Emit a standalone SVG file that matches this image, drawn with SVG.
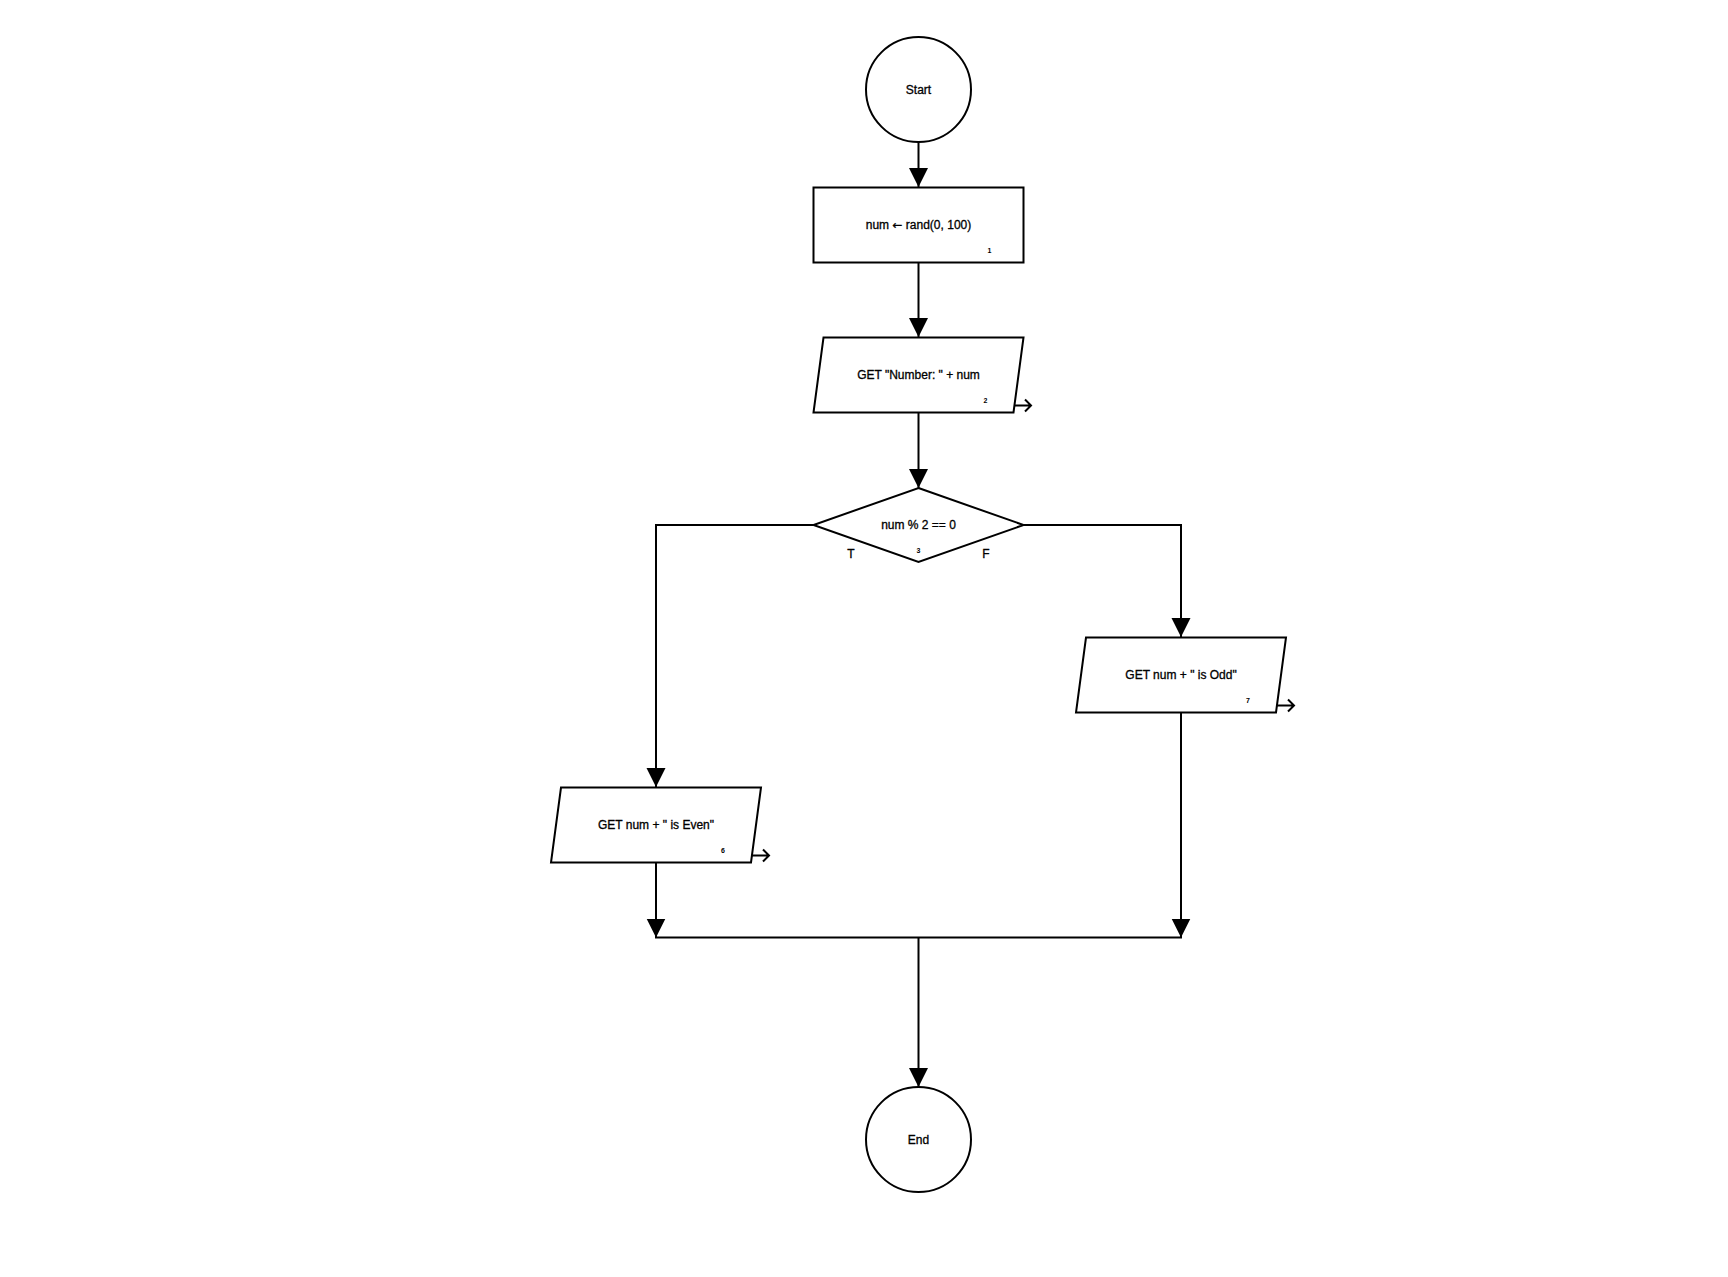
<svg xmlns="http://www.w3.org/2000/svg" width="1728" height="1277" viewBox="0 0 1728 1277">
<defs>
<marker id="ah" markerWidth="19" markerHeight="20" refX="19" refY="9.5" orient="auto" markerUnits="userSpaceOnUse">
<path d="M0,0 L19,9.5 L0,19 Z" fill="#000"/>
</marker>
</defs>
<style>
.shape{fill:#fff;stroke:#000;stroke-width:2}
.conn{fill:none;stroke:#000;stroke-width:2}
.lbl{font-family:"Liberation Sans",Arial,sans-serif;font-size:12px;fill:#000;stroke:#000;stroke-width:0.3;text-anchor:middle;dominant-baseline:central}
.num{font-family:"Liberation Sans",Arial,sans-serif;font-size:7px;font-weight:bold;fill:#000;text-anchor:middle;dominant-baseline:central}
.tf{font-family:"Liberation Sans",Arial,sans-serif;font-size:12px;fill:#000;stroke:#000;stroke-width:0.3;text-anchor:middle;dominant-baseline:central}
.out{fill:none;stroke:#000;stroke-width:2}
.arw{font-family:"DejaVu Sans",sans-serif}
</style>
<rect width="1728" height="1277" fill="#fff"/>
<g id="connectors">
<path class="conn" d="M918.5,142 L918.5,187" marker-end="url(#ah)"/>
<path class="conn" d="M918.5,262 L918.5,337" marker-end="url(#ah)"/>
<path class="conn" d="M918.5,412 L918.5,488" marker-end="url(#ah)"/>
<path class="conn" d="M813,525 L656,525 L656,787" marker-end="url(#ah)"/>
<path class="conn" d="M1024,525 L1181,525 L1181,637" marker-end="url(#ah)"/>
<path class="conn" d="M656,862 L656,937.5" marker-end="url(#ah)"/>
<path class="conn" d="M1181,712 L1181,937.5" marker-end="url(#ah)"/>
<path class="conn" d="M655,937.5 L1182,937.5"/>
<path class="conn" d="M918.5,937.5 L918.5,1087" marker-end="url(#ah)"/>
</g>
<g id="start">
<circle class="shape" cx="918.5" cy="89.5" r="52.5"/>
<text class="lbl" x="918.5" y="89.5">Start</text>
</g>
<g id="node1">
<rect class="shape" x="813.5" y="187.5" width="210" height="75"/>
<text class="lbl" x="918.5" y="225">num <tspan class="arw">←</tspan> rand(0, 100)</text>
<text class="num" x="989.5" y="250.5">1</text>
</g>
<g id="node2">
<polygon class="shape" points="823.5,337.5 1023.5,337.5 1013.5,412.5 813.5,412.5"/>
<text class="lbl" x="918.5" y="375">GET "Number: " + num</text>
<text class="num" x="985.5" y="400.5">2</text>
<path class="out" d="M1014,405.5 L1031,405.5 M1025,399.5 L1031,405.5 L1025,411.5"/>
</g>
<g id="node3">
<polygon class="shape" points="918.5,488 1023.5,525 918.5,562 813.5,525"/>
<text class="lbl" x="918.5" y="525">num % 2 == 0</text>
<text class="num" x="918.5" y="550">3</text>
<text class="tf" x="851" y="554">T</text>
<text class="tf" x="986" y="554">F</text>
</g>
<g id="node6">
<polygon class="shape" points="561,787.5 761,787.5 751,862.5 551,862.5"/>
<text class="lbl" x="656" y="825">GET num + " is Even"</text>
<text class="num" x="723" y="850">6</text>
<path class="out" d="M752,855.5 L769,855.5 M763,849.5 L769,855.5 L763,861.5"/>
</g>
<g id="node7">
<polygon class="shape" points="1086,637.5 1286,637.5 1276,712.5 1076,712.5"/>
<text class="lbl" x="1181" y="675">GET num + " is Odd"</text>
<text class="num" x="1248" y="700.5">7</text>
<path class="out" d="M1277,705.5 L1294,705.5 M1288,699.5 L1294,705.5 L1288,711.5"/>
</g>
<g id="end">
<circle class="shape" cx="918.5" cy="1139.5" r="52.5"/>
<text class="lbl" x="918.5" y="1139.5">End</text>
</g>
</svg>
